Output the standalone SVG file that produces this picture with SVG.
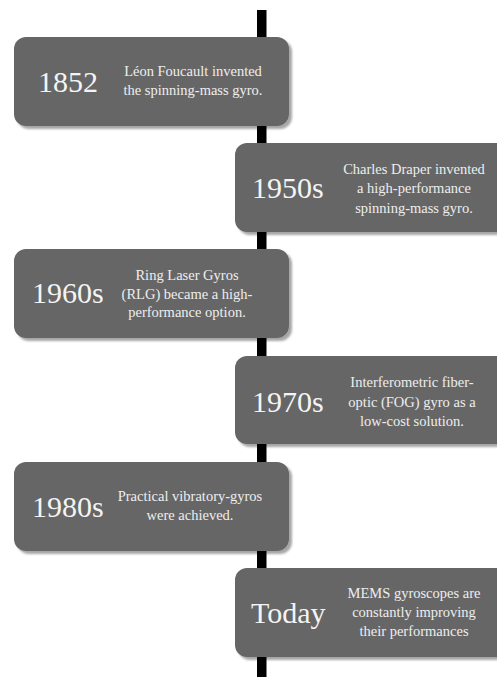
<svg xmlns="http://www.w3.org/2000/svg" width="497" height="677" viewBox="0 0 497 677">
  <defs>
    <filter id="shadow" x="-10%" y="-10%" width="125%" height="130%">
      <feDropShadow dx="3" dy="3" stdDeviation="1.2" flood-color="#000" flood-opacity="0.35"/>
    </filter>
  </defs>
  <style>
    .card { fill: #666666; filter: url(#shadow); }
    .year { font-family: "Liberation Serif", "Times New Roman", serif; font-size: 30px; fill: #f4f4f4; }
    .desc { font-family: "Liberation Serif", "Times New Roman", serif; font-size: 14.5px; fill: #eeeeee; text-anchor: middle; }
  </style>

  <rect width="497" height="677" fill="#ffffff"/>

  <!-- timeline spine -->
  <g id="connectors">
    <rect x="257" y="10" width="9.5" height="667" fill="#000000"/>
  </g>

  <g id="event-1852">
    <rect class="card" x="14" y="37" width="275" height="89" rx="12"/>
    <text class="year" x="38" y="92">1852</text>
    <text class="desc" x="193" y="76">Léon Foucault invented</text>
    <text class="desc" x="193" y="94.5">the spinning-mass gyro.</text>
  </g>

  <g id="event-1950s">
    <rect class="card" x="235" y="143" width="280" height="89" rx="12"/>
    <text class="year" x="252" y="198">1950s</text>
    <text class="desc" x="414" y="173.5">Charles Draper invented</text>
    <text class="desc" x="414" y="193">a high-performance</text>
    <text class="desc" x="414" y="212.5">spinning-mass gyro.</text>
  </g>

  <g id="event-1960s">
    <rect class="card" x="14" y="249" width="275" height="89" rx="12"/>
    <text class="year" x="32" y="303">1960s</text>
    <text class="desc" x="187" y="280">Ring Laser Gyros</text>
    <text class="desc" x="187" y="298.5">(RLG) became a high-</text>
    <text class="desc" x="187" y="317">performance option.</text>
  </g>

  <g id="event-1970s">
    <rect class="card" x="235" y="356" width="280" height="88" rx="12"/>
    <text class="year" x="252" y="412">1970s</text>
    <text class="desc" x="412" y="387">Interferometric fiber-</text>
    <text class="desc" x="412" y="406.5">optic (FOG) gyro as a</text>
    <text class="desc" x="412" y="426">low-cost solution.</text>
  </g>

  <g id="event-1980s">
    <rect class="card" x="14" y="462" width="275" height="89" rx="12"/>
    <text class="year" x="32" y="517">1980s</text>
    <text class="desc" x="190" y="501">Practical vibratory-gyros</text>
    <text class="desc" x="190" y="519.5">were achieved.</text>
  </g>

  <g id="event-today">
    <rect class="card" x="235" y="568" width="280" height="89" rx="12"/>
    <text class="year" x="251" y="623">Today</text>
    <text class="desc" x="414" y="598">MEMS gyroscopes are</text>
    <text class="desc" x="414" y="617">constantly improving</text>
    <text class="desc" x="414" y="636">their performances</text>
  </g>
</svg>
